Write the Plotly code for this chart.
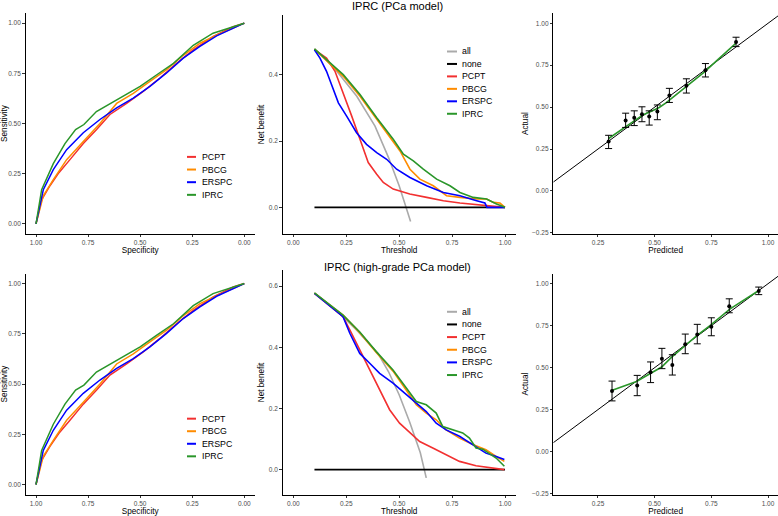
import plotly.graph_objects as go
from plotly.subplots import make_subplots

W, H = 778, 516

# ---- ROC (same look in both rows) ----
models = ['PCPT', 'PBCG', 'ERSPC', 'IPRC']
colors = ['#f23030', '#ff8c00', '#0000ff', '#2a962a']

roc_pcpt_spec = [1.0, 0.973, 0.933, 0.89, 0.837, 0.773, 0.709, 0.645, 0.565, 0.485, 0.405, 0.325, 0.245, 0.149, 0.053, 0.0]
roc_pcpt_sens = [0.0, 0.12, 0.19, 0.255, 0.32, 0.40, 0.47, 0.545, 0.60, 0.66, 0.727, 0.80, 0.867, 0.934, 0.983, 1.0]
roc_pbcg_spec = [1.0, 0.965, 0.917, 0.853, 0.773, 0.693, 0.613, 0.533, 0.453, 0.373, 0.293, 0.213, 0.133, 0.0]
roc_pbcg_sens = [0.0, 0.14, 0.22, 0.32, 0.41, 0.50, 0.60, 0.65, 0.71, 0.768, 0.84, 0.90, 0.94, 1.0]
roc_erspc_spec = [1.0, 0.965, 0.917, 0.853, 0.773, 0.693, 0.613, 0.533, 0.453, 0.373, 0.293, 0.213, 0.133, 0.0]
roc_erspc_sens = [0.0, 0.17, 0.27, 0.37, 0.454, 0.52, 0.578, 0.627, 0.685, 0.752, 0.826, 0.884, 0.937, 1.0]
roc_iprc_spec = [1.0, 0.973, 0.917, 0.861, 0.81, 0.77, 0.71, 0.645, 0.58, 0.50, 0.42, 0.34, 0.245, 0.15, 0.0]
roc_iprc_sens = [0.0, 0.17, 0.30, 0.40, 0.47, 0.495, 0.56, 0.60, 0.636, 0.685, 0.743, 0.80, 0.89, 0.95, 1.0]

# ---- decision curves, PCa model ----
dca1_all_t = [0.10, 0.20, 0.30, 0.386, 0.45, 0.50, 0.554]
dca1_all_nb = [0.478, 0.415, 0.335, 0.245, 0.15, 0.065, -0.043]
dca1_none_t = [0.10, 1.00]
dca1_none_nb = [0.0, 0.0]
dca1_pcpt_t = [0.1, 0.157, 0.197, 0.236, 0.276, 0.315, 0.354, 0.394, 0.425, 0.472, 0.55, 0.63, 0.709, 0.787, 0.866, 0.945, 1.0]
dca1_pcpt_nb = [0.475, 0.45, 0.41, 0.345, 0.275, 0.205, 0.135, 0.10, 0.075, 0.055, 0.04, 0.03, 0.02, 0.013, 0.008, 0.003, 0.0]
dca1_pbcg_t = [0.1, 0.236, 0.315, 0.394, 0.441, 0.504, 0.551, 0.598, 0.661, 0.724, 0.787, 0.866, 0.913, 0.945, 0.976, 1.0]
dca1_pbcg_nb = [0.477, 0.395, 0.335, 0.265, 0.225, 0.17, 0.115, 0.085, 0.065, 0.035, 0.03, 0.025, 0.025, 0.015, 0.013, 0.0]
dca1_erspc_t = [0.1, 0.126, 0.157, 0.181, 0.213, 0.252, 0.299, 0.346, 0.394, 0.441, 0.488, 0.551, 0.63, 0.709, 0.787, 0.866, 0.905, 0.915, 1.0]
dca1_erspc_nb = [0.475, 0.45, 0.41, 0.37, 0.315, 0.275, 0.225, 0.19, 0.165, 0.145, 0.115, 0.09, 0.065, 0.045, 0.035, 0.02, 0.013, 0.0, 0.0]
dca1_iprc_t = [0.1, 0.236, 0.315, 0.394, 0.472, 0.52, 0.567, 0.614, 0.677, 0.74, 0.787, 0.85, 0.913, 0.96, 1.0]
dca1_iprc_nb = [0.478, 0.40, 0.34, 0.27, 0.205, 0.16, 0.14, 0.115, 0.085, 0.065, 0.045, 0.03, 0.025, 0.01, 0.0]

# ---- decision curves, high-grade model ----
dca2_all_t = [0.10, 0.20, 0.30, 0.40, 0.45, 0.50, 0.55, 0.60, 0.628]
dca2_all_nb = [0.577, 0.522, 0.456, 0.38, 0.32, 0.245, 0.155, 0.055, -0.027]
dca2_none_t = [0.10, 1.00]
dca2_none_nb = [0.0, 0.0]
dca2_pcpt_t = [0.1, 0.235, 0.267, 0.314, 0.361, 0.408, 0.455, 0.502, 0.55, 0.597, 0.659, 0.722, 0.785, 0.863, 0.942, 0.997]
dca2_pcpt_nb = [0.576, 0.50, 0.457, 0.391, 0.326, 0.261, 0.196, 0.152, 0.12, 0.092, 0.071, 0.049, 0.027, 0.013, 0.004, 0.0]
dca2_pbcg_t = [0.1, 0.235, 0.314, 0.392, 0.471, 0.534, 0.581, 0.628, 0.675, 0.722, 0.785, 0.848, 0.91, 0.958, 0.997]
dca2_pbcg_nb = [0.577, 0.505, 0.448, 0.383, 0.322, 0.26, 0.212, 0.185, 0.163, 0.13, 0.103, 0.082, 0.065, 0.043, 0.027]
dca2_erspc_t = [0.1, 0.235, 0.267, 0.314, 0.361, 0.408, 0.471, 0.518, 0.581, 0.628, 0.675, 0.722, 0.785, 0.848, 0.91, 0.958, 0.997]
dca2_erspc_nb = [0.576, 0.50, 0.446, 0.38, 0.348, 0.315, 0.283, 0.255, 0.217, 0.19, 0.152, 0.13, 0.109, 0.082, 0.054, 0.043, 0.033]
dca2_iprc_t = [0.1, 0.235, 0.314, 0.392, 0.471, 0.534, 0.581, 0.628, 0.675, 0.706, 0.754, 0.80, 0.832, 0.863, 0.895, 0.926, 0.958, 0.997]
dca2_iprc_nb = [0.578, 0.505, 0.45, 0.386, 0.326, 0.266, 0.223, 0.212, 0.185, 0.141, 0.13, 0.12, 0.103, 0.071, 0.067, 0.054, 0.038, 0.011]

# ---- calibration, PCa model ----
cal1_pred = [0.297, 0.372, 0.41, 0.444, 0.476, 0.512, 0.565, 0.64, 0.724, 0.859]
cal1_act = [0.295, 0.42, 0.436, 0.458, 0.444, 0.474, 0.569, 0.627, 0.72, 0.889]
cal1_lo = [0.253, 0.379, 0.39, 0.413, 0.393, 0.425, 0.528, 0.584, 0.68, 0.861]
cal1_hi = [0.332, 0.464, 0.478, 0.502, 0.478, 0.513, 0.612, 0.669, 0.76, 0.917]
cal1_fit_x = [0.297, 0.35, 0.40, 0.45, 0.49, 0.52, 0.55, 0.60, 0.64, 0.68, 0.72, 0.78, 0.859]
cal1_fit_y = [0.313, 0.363, 0.412, 0.455, 0.478, 0.498, 0.525, 0.58, 0.62, 0.665, 0.71, 0.785, 0.882]

# ---- calibration, high-grade model ----
cal2_pred = [0.312, 0.423, 0.482, 0.532, 0.578, 0.635, 0.688, 0.75, 0.829, 0.959]
cal2_act = [0.361, 0.393, 0.472, 0.553, 0.516, 0.64, 0.697, 0.743, 0.866, 0.957]
cal2_lo = [0.302, 0.333, 0.411, 0.494, 0.456, 0.583, 0.642, 0.69, 0.827, 0.935]
cal2_hi = [0.42, 0.454, 0.534, 0.615, 0.577, 0.70, 0.758, 0.797, 0.91, 0.98]
cal2_fit_x = [0.313, 0.376, 0.42, 0.479, 0.531, 0.575, 0.634, 0.686, 0.744, 0.833, 0.958]
cal2_fit_y = [0.365, 0.395, 0.418, 0.464, 0.504, 0.563, 0.632, 0.691, 0.751, 0.85, 0.958]

fig = make_subplots(rows=2, cols=3)

FONT = 'Liberation Sans, Arial, sans-serif'

roc_sets = [(roc_pcpt_spec, roc_pcpt_sens), (roc_pbcg_spec, roc_pbcg_sens),
            (roc_erspc_spec, roc_erspc_sens), (roc_iprc_spec, roc_iprc_sens)]
for row in [1, 2]:
    for (sx, sy), name, c in zip(roc_sets, models, colors):
        fig.add_trace(go.Scatter(x=sx, y=sy, mode='lines', name=name, showlegend=False,
                                 line=dict(color=c, width=1.5)), row=row, col=1)

dca_all = [
    [(dca1_all_t, dca1_all_nb), (dca1_none_t, dca1_none_nb), (dca1_pcpt_t, dca1_pcpt_nb),
     (dca1_pbcg_t, dca1_pbcg_nb), (dca1_erspc_t, dca1_erspc_nb), (dca1_iprc_t, dca1_iprc_nb)],
    [(dca2_all_t, dca2_all_nb), (dca2_none_t, dca2_none_nb), (dca2_pcpt_t, dca2_pcpt_nb),
     (dca2_pbcg_t, dca2_pbcg_nb), (dca2_erspc_t, dca2_erspc_nb), (dca2_iprc_t, dca2_iprc_nb)],
]
dca_names = ['all', 'none'] + models
dca_colors = ['#aaaaaa', '#000000'] + colors
for row, sets in zip([1, 2], dca_all):
    for (tx, ny), name, c in zip(sets, dca_names, dca_colors):
        fig.add_trace(go.Scatter(x=tx, y=ny, mode='lines', name=name, showlegend=False,
                                 line=dict(color=c, width=1.6)), row=row, col=2)

cal_xrange = [0.053, 1.044]
cal_sets = [(cal1_pred, cal1_act, cal1_lo, cal1_hi, cal1_fit_x, cal1_fit_y),
            (cal2_pred, cal2_act, cal2_lo, cal2_hi, cal2_fit_x, cal2_fit_y)]
for row, (px_, ac, lo, hi, fx, fy) in zip([1, 2], cal_sets):
    # ideal y = x line across the panel
    fig.add_trace(go.Scatter(x=cal_xrange, y=cal_xrange, mode='lines', showlegend=False,
                             line=dict(color='black', width=1)), row=row, col=3)
    fig.add_trace(go.Scatter(x=fx, y=fy, mode='lines', showlegend=False,
                             line=dict(color='#2a962a', width=1.6)), row=row, col=3)
    fig.add_trace(go.Scatter(
        x=px_, y=ac, mode='markers', showlegend=False,
        marker=dict(color='black', size=4),
        error_y=dict(type='data', symmetric=False,
                     array=[h - a for h, a in zip(hi, ac)],
                     arrayminus=[a - l for a, l in zip(ac, lo)],
                     color='black', thickness=1, width=3.5)), row=row, col=3)

def xdom(a, b):
    return [a / W, b / W]

def ydom(top, bottom):
    return [1 - bottom / H, 1 - top / H]

axis_style = dict(showline=True, linecolor='black', linewidth=1, ticks='outside',
                  ticklen=2.5, tickwidth=0.8, tickcolor='#333333', showgrid=False,
                  zeroline=False, tickfont=dict(size=6.5, color='#4d4d4d', family=FONT),
                  autorange=False, ticklabeloverflow='allow')
title_font = dict(size=8.2, color='black', family=FONT)

fig.update_xaxes(**axis_style)
fig.update_yaxes(**axis_style)

for row, (top_roc, top_cal, bot) in zip([1, 2], [(13.2, 13.3, 234.8), (274.6, 274.7, 496.5)]):
    fig.update_xaxes(row=row, col=1, domain=xdom(25.6, 254.7), range=[1.05, -0.05],
                     tickvals=[1, 0.75, 0.5, 0.25, 0], tickformat='.2f',
                     title=dict(text='Specificity', font=title_font, standoff=2))
    fig.update_yaxes(row=row, col=1, domain=ydom(top_roc, bot), range=[-0.05, 1.05],
                     tickvals=[0, 0.25, 0.5, 0.75, 1], tickformat='.2f',
                     title=dict(text='Sensitivity', font=title_font, standoff=2))
    fig.update_xaxes(row=row, col=2, domain=xdom(282.7, 515.6), range=[-0.05, 1.05],
                     tickvals=[0, 0.25, 0.5, 0.75, 1], tickformat='.2f',
                     title=dict(text='Threshold', font=title_font, standoff=2))
    fig.update_xaxes(row=row, col=3, domain=xdom(553.3, 778), range=cal_xrange,
                     tickvals=[0.25, 0.5, 0.75, 1], tickformat='.2f',
                     title=dict(text='Predicted', font=title_font, standoff=2))
    fig.update_yaxes(row=row, col=3, domain=ydom(top_cal, bot), range=[-0.256, 1.06],
                     tickvals=[-0.25, 0, 0.25, 0.5, 0.75, 1], tickformat='.2f',
                     title=dict(text='Actual', font=title_font, standoff=2))

fig.update_yaxes(row=1, col=2, domain=ydom(15, 234.8), range=[-0.08, 0.58],
                 tickvals=[0, 0.2, 0.4], tickformat='.1f',
                 title=dict(text='Net benefit', font=title_font, standoff=2))
fig.update_yaxes(row=2, col=2, domain=ydom(271.3, 496.5), range=[-0.0815, 0.652],
                 tickvals=[0, 0.2, 0.4, 0.6], tickformat='.1f',
                 title=dict(text='Net benefit', font=title_font, standoff=2))

# hand-drawn keys (ggplot-style tight spacing)
def add_key(names, cols, x0, x1, xt, y0, dy):
    for i, (n, c) in enumerate(zip(names, cols)):
        yy = 1 - (y0 + i * dy) / H
        fig.add_shape(type='line', xref='paper', yref='paper', x0=x0 / W, x1=x1 / W,
                      y0=yy, y1=yy, line=dict(color=c, width=2))
        fig.add_annotation(text=n, x=xt / W, y=yy, xref='paper', yref='paper',
                           xanchor='left', yanchor='middle', showarrow=False,
                           font=dict(size=8.8, color='black', family=FONT))

add_key(models, colors, 187, 196, 200, 157.5, 12.7)
add_key(models, colors, 187, 196, 200, 420.3, 12.6)
add_key(dca_names, dca_colors, 447, 457, 460, 51.7, 12.5)
add_key(dca_names, dca_colors, 447, 457, 460, 313, 12.7)

fig.add_annotation(text='IPRC (PCa model)', x=398 / W, y=1 - 6.5 / H, xref='paper', yref='paper',
                   xanchor='center', yanchor='middle', showarrow=False,
                   font=dict(size=11, color='black', family=FONT))
fig.add_annotation(text='IPRC (high-grade PCa model)', x=398 / W, y=1 - 268.5 / H,
                   xref='paper', yref='paper', xanchor='center', yanchor='middle',
                   showarrow=False, font=dict(size=11, color='black', family=FONT))

fig.update_layout(width=W, height=H, margin=dict(l=0, r=0, t=0, b=0),
                  plot_bgcolor='white', paper_bgcolor='white',
                  font=dict(family=FONT), showlegend=False)

# drop the default page margin so the figure sits at the window's top-left corner
fig.write_html("out.html", config={'displayModeBar': False},
               post_script="document.body.style.margin='0';")
